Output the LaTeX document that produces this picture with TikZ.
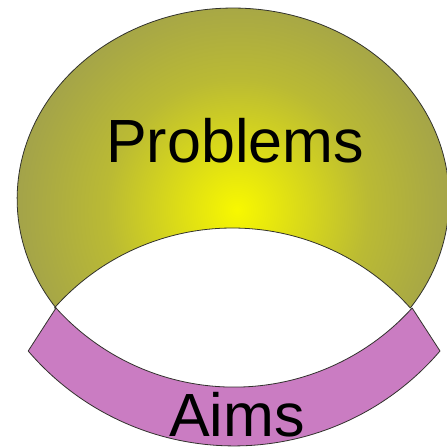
\documentclass[tikz,border=0pt]{standalone}
\usepackage{fontspec}
\setmainfont{Liberation Sans}
\definecolor{cA}{RGB}{248,248,0}
\definecolor{cB}{RGB}{226,226,18}
\definecolor{cC}{RGB}{186,186,52}
\definecolor{cD}{RGB}{152,152,84}
\definecolor{cE}{RGB}{132,132,104}
\definecolor{aimpink}{RGB}{202,124,194}
\definecolor{edgegray}{RGB}{50,50,45}
\pgfdeclareradialshading{probshade}{\pgfpoint{0bp}{0bp}}{color(0bp)=(cA); color(5bp)=(cB); color(14bp)=(cC); color(28bp)=(cD); color(44bp)=(cE); color(50bp)=(cE)}
\tikzset{
  outline/.style={draw=edgegray, line width=0.8pt, line join=round},
  bigtext/.style={font=\fontsize{61}{61}\selectfont, text=black, inner sep=0pt, anchor=base}
}
\begin{document}
\begin{tikzpicture}[x=1pt,y=1pt]
\useasboundingbox (0,0) rectangle (447,448);
\fill[white] (0,0) rectangle (447,448);
\coordinate (L) at (56,140);
\coordinate (R) at (412,140);
\coordinate (A) at (28,97);
\coordinate (B) at (440,97);
% Problems shape
\begin{scope}
\clip (L) arc[start angle=214.9, end angle=-34.9, x radius=216pt, y radius=190.8pt]
      arc[start angle=41.6, end angle=138.4, radius=238pt] -- cycle;
\shade[shading=probshade] (237,238) circle (235pt);
\end{scope}
\draw[outline] (L) arc[start angle=214.9, end angle=-34.9, x radius=216pt, y radius=190.8pt]
      arc[start angle=41.6, end angle=138.4, radius=238pt] -- cycle;
% Aims band
\path[outline, fill=aimpink] (L) arc[start angle=222.1, end angle=317.9, radius=240pt]
      -- (B) arc[start angle=319.5, end angle=220.5, radius=270.8pt] -- cycle;
\node[bigtext] (problems) at (235,285) {Problems};
\node[bigtext] (aims) at (237,12) {Aims};
\end{tikzpicture}
\end{document}
